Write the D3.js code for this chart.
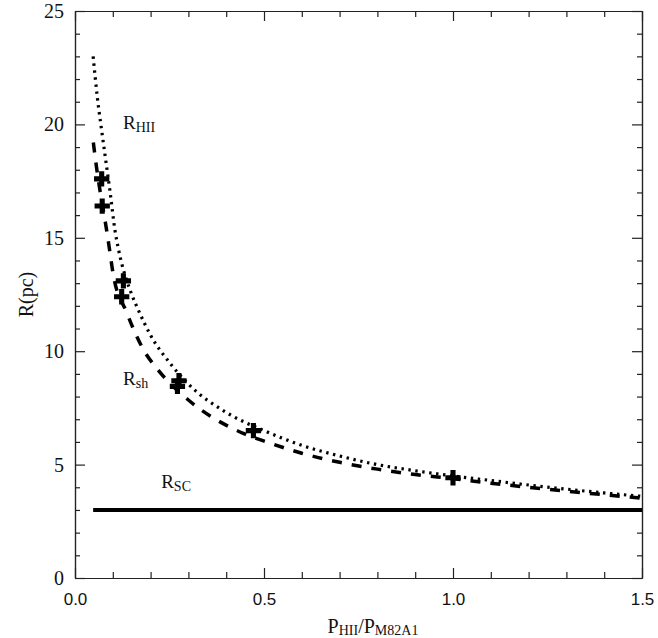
<!DOCTYPE html>
<html>
<head>
<meta charset="utf-8">
<script src="https://cdn.jsdelivr.net/npm/d3@7"></script>
<style>
  body { margin: 0; background: #fff; }
  svg text { fill: #111; }
</style>
</head>
<body>
<svg width="658" height="638"></svg>
<script>
// R_HII curve (dotted)
var hiiP = [0.048, 0.059, 0.070, 0.079, 0.093, 0.106, 0.115, 0.150, 0.168, 0.200, 0.250, 0.300, 0.400, 0.500, 0.600, 0.700, 0.800, 0.900, 1.000, 1.100, 1.200, 1.300, 1.400, 1.500];
var hiiR = [23.0, 21.2, 19.8, 18.7, 17.0, 15.3, 14.5, 12.5, 11.8, 10.7, 9.5, 8.55, 7.3, 6.5, 5.85, 5.38, 5.0, 4.73, 4.5, 4.3, 4.1, 3.92, 3.75, 3.6];
// R_sh curve (dashed)
var shP = [0.0485, 0.057, 0.066, 0.084, 0.093, 0.101, 0.137, 0.180, 0.220, 0.300, 0.445, 0.507, 0.600, 0.700, 0.800, 0.900, 1.000, 1.100, 1.200, 1.300, 1.400, 1.500];
var shR = [19.2, 18.1, 17.1, 15.3, 14.3, 13.4, 11.7, 10.1, 9.17, 7.85, 6.38, 6.0, 5.5, 5.1, 4.8, 4.56, 4.38, 4.18, 4.0, 3.83, 3.67, 3.52];
// measured points (plus symbols)
var obsP = [0.0706, 0.072, 0.128, 0.1235, 0.275, 0.271, 0.472, 1.0];
var obsR = [17.6, 16.4, 13.1, 12.4, 8.7, 8.45, 6.5, 4.42];
// R_SC (solid)
var scP = [0.048, 1.5];
var scR = [3.0, 3.0];

var xMajor = [0, 0.5, 1.0, 1.5];
var xMinor = [0.1, 0.2, 0.3, 0.4, 0.6, 0.7, 0.8, 0.9, 1.1, 1.2, 1.3, 1.4];
var yMajor = [0, 5, 10, 15, 20, 25];
var yMinor = [1, 2, 3, 4, 6, 7, 8, 9, 11, 12, 13, 14, 16, 17, 18, 19, 21, 22, 23, 24];

var svg = d3.select("svg");
var pLeft = 75, pRight = 642, pTop = 11, pBottom = 578;

var x = d3.scaleLinear().domain([0, 1.5]).range([pLeft, pRight]);
var y = d3.scaleLinear().domain([0, 25]).range([pBottom, pTop]);

var serif = "'Liberation Serif', 'DejaVu Serif', serif";
var sans = "'Liberation Sans', 'DejaVu Sans', sans-serif";

function axisStyle(g) {
    g.selectAll("path.domain").attr("stroke", "#222").attr("stroke-width", 1.2);
    g.selectAll(".tick line").attr("stroke", "#222").attr("stroke-width", 1.2);
}

// bottom
svg.append("g").attr("transform", "translate(0," + pBottom + ")")
    .call(d3.axisBottom(x).tickValues(xMajor).tickSize(-10).tickSizeOuter(0).tickPadding(12)
        .tickFormat(d3.format(".1f")))
    .call(axisStyle)
    .call(function(g) {
        g.selectAll("text").attr("font-family", sans).attr("font-size", 17)
            .attr("fill", "#444").attr("y", 22).attr("dy", "0.32em");
    });
svg.append("g").attr("transform", "translate(0," + pBottom + ")")
    .call(d3.axisBottom(x).tickValues(xMinor).tickSize(-6).tickSizeOuter(0).tickFormat(""))
    .call(axisStyle);

// top
svg.append("g").attr("transform", "translate(0," + pTop + ")")
    .call(d3.axisTop(x).tickValues(xMajor).tickSize(-10).tickSizeOuter(0).tickFormat(""))
    .call(axisStyle);
svg.append("g").attr("transform", "translate(0," + pTop + ")")
    .call(d3.axisTop(x).tickValues(xMinor).tickSize(-6).tickSizeOuter(0).tickFormat(""))
    .call(axisStyle);

// left
svg.append("g").attr("transform", "translate(" + pLeft + ",0)")
    .call(d3.axisLeft(y).tickValues(yMajor).tickSize(-10).tickSizeOuter(0).tickPadding(11))
    .call(axisStyle)
    .call(function(g) {
        g.selectAll("text").attr("font-family", serif).attr("font-size", 20).attr("fill", "#222");
    });
svg.append("g").attr("transform", "translate(" + pLeft + ",0)")
    .call(d3.axisLeft(y).tickValues(yMinor).tickSize(-5).tickSizeOuter(0).tickFormat(""))
    .call(axisStyle);

// right
svg.append("g").attr("transform", "translate(" + pRight + ",0)")
    .call(d3.axisRight(y).tickValues(yMajor).tickSize(-10).tickSizeOuter(0).tickFormat(""))
    .call(axisStyle);
svg.append("g").attr("transform", "translate(" + pRight + ",0)")
    .call(d3.axisRight(y).tickValues(yMinor).tickSize(-5).tickSizeOuter(0).tickFormat(""))
    .call(axisStyle);

// curves
var line = d3.line()
    .x(function(d) { return x(d[0]); })
    .y(function(d) { return y(d[1]); })
    .curve(d3.curveMonotoneX);

svg.append("path")
    .datum(d3.zip(hiiP, hiiR))
    .attr("d", line)
    .attr("fill", "none")
    .attr("stroke", "#000")
    .attr("stroke-width", 3.2)
    .attr("stroke-dasharray", "2.4,4.6");

svg.append("path")
    .datum(d3.zip(shP, shR))
    .attr("d", line)
    .attr("fill", "none")
    .attr("stroke", "#000")
    .attr("stroke-width", 3.5)
    .attr("stroke-dasharray", "10,10");

svg.append("path")
    .datum(d3.zip(scP, scR))
    .attr("d", line)
    .attr("fill", "none")
    .attr("stroke", "#000")
    .attr("stroke-width", 4);

svg.selectAll(".obs")
    .data(d3.zip(obsP, obsR))
    .enter().append("path")
    .attr("class", "obs")
    .attr("d", d3.symbol().type(d3.symbolCross).size(130))
    .attr("transform", function(d) { return "translate(" + x(d[0]) + "," + y(d[1]) + ")"; })
    .attr("fill", "#000");

// curve labels: [text, subscript, P, R]
var curveLabels = [["R", "HII", 0.127, 19.8], ["R", "sh", 0.127, 8.5], ["R", "SC", 0.228, 3.95]];
curveLabels.forEach(function(l) {
    var t = svg.append("text")
        .attr("x", x(l[2])).attr("y", y(l[3]))
        .attr("font-family", serif).attr("font-size", 19);
    t.append("tspan").text(l[0]);
    t.append("tspan").attr("font-size", 14).attr("dy", 3).text(l[1]);
});

// axis titles
var xt = svg.append("text")
    .attr("x", 373).attr("y", 633)
    .attr("text-anchor", "middle")
    .attr("font-family", serif).attr("font-size", 20);
xt.append("tspan").text("P");
xt.append("tspan").attr("font-size", 14).attr("dy", 2).text("HII");
xt.append("tspan").attr("dy", -2).text("/P");
xt.append("tspan").attr("font-size", 14).attr("dy", 2).text("M82A1");

svg.append("text")
    .attr("transform", "translate(33," + ((pTop + pBottom) / 2) + ") rotate(-90)")
    .attr("text-anchor", "middle")
    .attr("font-family", serif).attr("font-size", 20)
    .text("R(pc)");
</script>
</body>
</html>
